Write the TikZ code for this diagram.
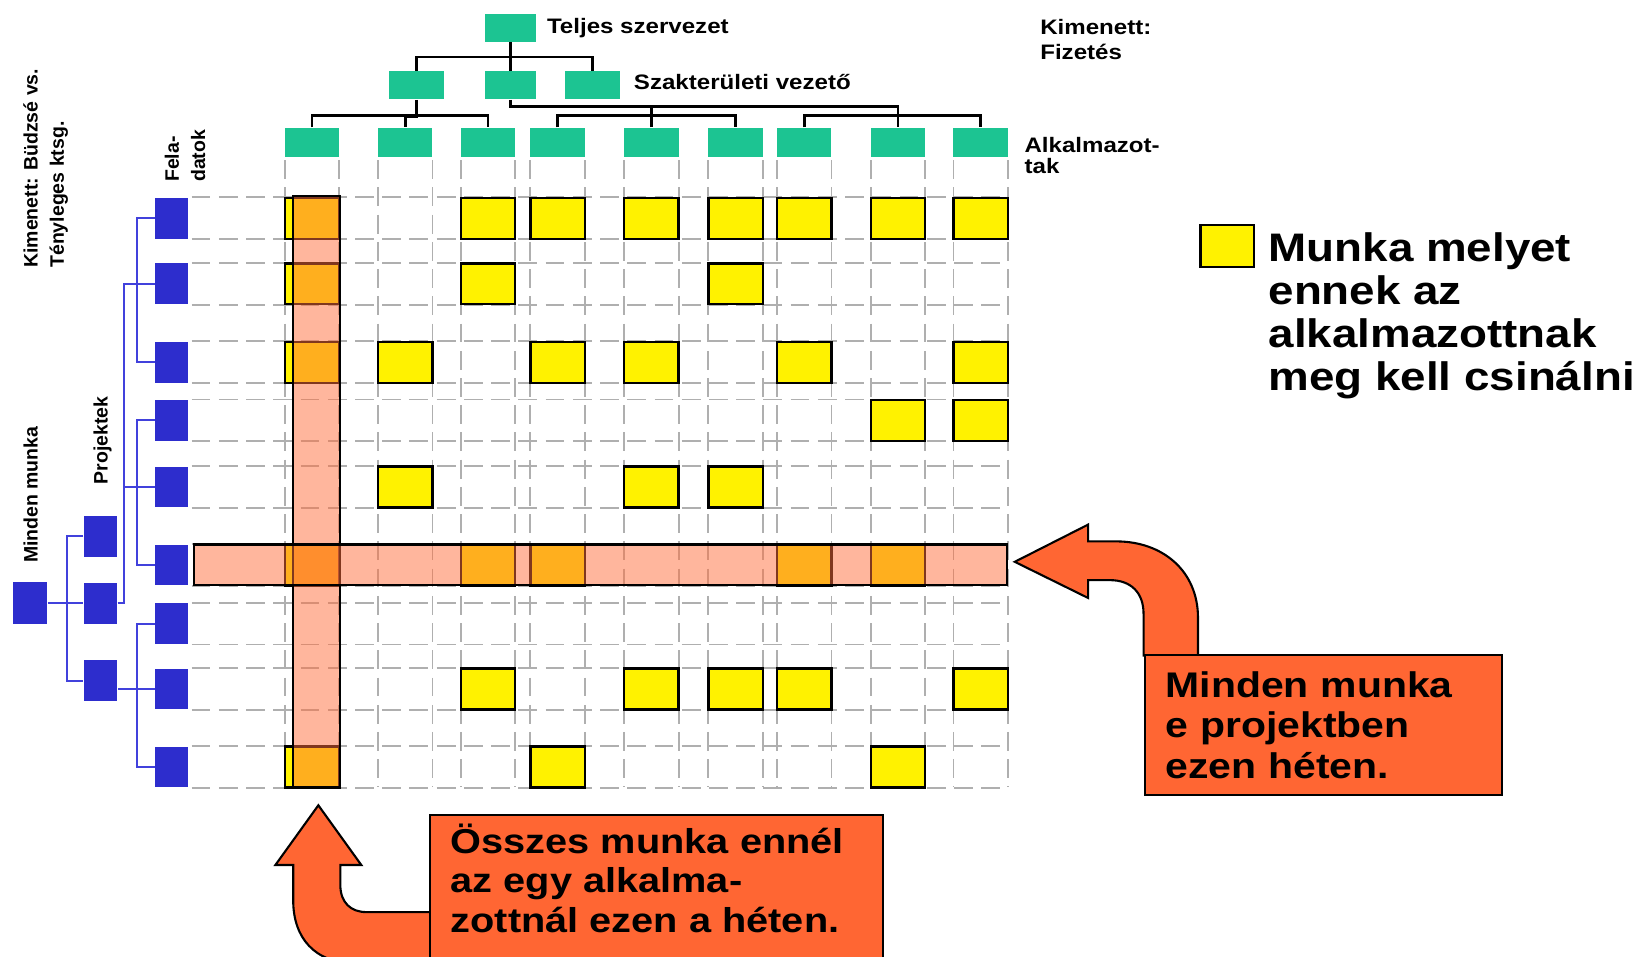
\documentclass[tikz,border=0pt]{standalone}
\usepackage{fontspec}
\setmainfont{Liberation Sans}
\newfontfamily\widefont[FakeStretch=1.15]{Liberation Sans}

\definecolor{orggreen}{RGB}{28,196,146}
\definecolor{taskblue}{RGB}{45,45,205}
\definecolor{treeblue}{RGB}{65,65,220}
\definecolor{gridgray}{RGB}{175,175,175}
\definecolor{hilite}{RGB}{255,110,60}
\definecolor{callred}{RGB}{255,102,51}

\tikzset{
  orgbox/.style={fill=orggreen, minimum width=24.5pt, minimum height=13.5pt, inner sep=0pt},
  orgline/.style={line width=1.3pt},
  taskbox/.style={fill=taskblue, minimum width=16pt, minimum height=19.5pt, inner sep=0pt},
  treeline/.style={treeblue, line width=1pt},
  gridline/.style={gridgray, line width=0.9pt, dash pattern=on 9pt off 4pt},
  workbox/.style={fill=yellow, draw=black, line width=1.1pt, minimum width=26pt, minimum height=19.5pt, inner sep=0pt},
  hiliteband/.style={fill=hilite, fill opacity=0.5, draw=black, line width=1pt},
  calloutfill/.style={fill=callred, draw=black, line width=1pt},
  smalllabel/.style={font=\widefont\bfseries\fontsize{10}{10}\selectfont, inner sep=0pt, align=left},
  sidelabel/.style={font=\bfseries\fontsize{9.3}{12.5}\selectfont, rotate=90, inner sep=0pt, align=left, anchor=north west},
  legendtext/.style={font=\widefont\bfseries\fontsize{19}{20.5}\selectfont, inner sep=0pt, align=left},
}

\begin{document}
\begin{tikzpicture}[x=0.5pt, y=-0.5pt]
    \useasboundingbox (0,0) rectangle (1568,913);

    % Grid
    \foreach \y in {208.5,271,346,401.5,465,539.5,595.5,658,732.5} {
        \draw[gridline] (183,{\y-20}) -- (962,{\y-20});
        \draw[gridline] (183,{\y+20}) -- (962,{\y+20});
    }
    \foreach \x in {298,387,466,532.5,622,702.5,768,857.5,936.5} {
        \draw[gridline] ({\x-26},153) -- ({\x-26},752);
        \draw[gridline] ({\x+26},153) -- ({\x+26},752);
    }

    % Org chart
    \node[orgbox] (top) at (487.5,26.5) {};
    \node[orgbox, minimum width=26.5pt] (s1) at (397.5,81.5) {};
    \node[orgbox] (s2) at (487.5,81.5) {};
    \node[orgbox, minimum width=26pt] (s3) at (566,81.5) {};
    \foreach \n/\x in {1/298,2/387,3/466,4/532.5,5/622,6/702.5,7/768,8/857.5,9/936.5}
        \node[orgbox, minimum width=26pt, minimum height=14pt] (e\n) at (\x,136) {};

    \draw[orgline] (top.south) -- ++(0,14) -| (s1.north);
    \draw[orgline] (top.south) -- ++(0,14) -| (s3.north);
    \draw[orgline] (top) -- (s2);
    \draw[orgline] (e1.north) -- ++(0,-11) -| (e3.north);
    \draw[orgline] (s1.south) -- ++(0,16) -| (e2.north);
    \draw[orgline] (e4.north) -- ++(0,-11) -| (e6.north);
    \draw[orgline] (e7.north) -- ++(0,-11) -| (e9.north);
    \draw[orgline] (s2.south) -- ++(0,6) coordinate (s2bus) -| (e8.north);
    \draw[orgline] (e5.north) -- (e5.north |- s2bus);

    \node[smalllabel, anchor=west] (toplabel) at (522,27) {Teljes szervezet};
    \node[smalllabel, anchor=west] (midlabel) at (605,78) {Szakterületi vezető};
    \node[smalllabel, anchor=north west, font=\widefont\bfseries\fontsize{10}{11.5}\selectfont] (paylabel) at (993,18.5) {Kimenett:\\Fizetés};
    \node[smalllabel, anchor=north west] (emplabel) at (978,131) {Alkalmazot-\\tak};

    % Task tree
    \node[taskbox, minimum width=16.5pt, minimum height=20pt] (all) at (28.5,576) {};
    \node[taskbox] (p1) at (96,512) {};
    \node[taskbox] (p2) at (96,576) {};
    \node[taskbox] (p3) at (96,650) {};
    \foreach \n/\y in {1/208.5,2/271,3/346,4/401.5,5/465,6/539.5,7/595.5,8/658,9/732.5}
        \node[taskbox] (f\n) at (164,\y) {};

    \draw[treeline] (all) -- (p2);
    \draw[treeline] (p1.west) -- ++(-16,0) |- (p3.west);
    \draw[treeline] (p2.east) -- ++(6,0) |- (f2.west);
    \draw[treeline] (p2.east) -- ++(6,0) |- (f5.west);
    \draw[treeline] (f1.west) -- ++(-17,0) |- (f3.west);
    \draw[treeline] (f4.west) -- ++(-17,0) |- (f6.west);
    \draw[treeline] (f7.west) -- ++(-17,0) |- (f9.west);
    \draw[treeline] (f8.west) -- (f8.west -| p3.east);

    \node[sidelabel] (budget) at (22,256) {Kimenett: Büdzsé vs.\\Tényleges ktsg.};
    \node[sidelabel] (tasks) at (157,174) {Fela-\\datok};
    \node[sidelabel] (projects) at (89,463) {Projektek};
    \node[sidelabel] (allwork) at (22,538) {Minden munka};

    % Work cells
    \foreach \c/\r in {1/1,3/1,4/1,5/1,6/1,7/1,8/1,9/1,1/2,3/2,6/2,1/3,2/3,4/3,5/3,7/3,9/3,
                       8/4,9/4,2/5,5/5,6/5,1/6,3/6,4/6,7/6,8/6,3/8,5/8,6/8,7/8,9/8,1/9,4/9,8/9}
        \node[workbox] (w\c-\r) at (e\c |- f\r) {};

    % Highlights
    \draw[hiliteband] (280,187) rectangle (325,752);
    \draw[hiliteband] (185,520) rectangle (962,559);

    % Legend
    \node[workbox, minimum width=25.5pt, minimum height=20pt] (key) at (1172,235) {};
    \node[legendtext, anchor=north west] (keytext) at (1211,222)
        {Munka melyet\\ennek az\\alkalmazottnak\\meg kell csinálni};

    % Callouts
    \filldraw[calloutfill] (1092,626) -- (1092,586) .. controls (1092,566) and (1080,554) .. (1060,554)
        -- (1039,554) -- (1039,571) -- (969,536.5) -- (1039,501) -- (1039,517) -- (1066,517)
        .. controls (1110,517) and (1144,545) .. (1144,590) -- (1144,626) -- cycle;
    \node[calloutfill, text width=150.5pt, minimum height=67pt, inner xsep=10pt, inner ysep=0pt, align=left,
          font=\widefont\bfseries\fontsize{17}{19.5}\selectfont] (rbox) at (1263.5,692.5)
        {Minden munka\\e projektben\\ezen héten.};

    \filldraw[calloutfill] (411,871) -- (350,871) .. controls (335,871) and (325,862) .. (325,845)
        -- (325,826) -- (345,826) -- (304,769) -- (263,826) -- (280,826) -- (280,860)
        .. controls (280,895) and (300,920) .. (340,920) -- (411,920) -- cycle;
    \draw[calloutfill] (411,778) rectangle (843,925);
    \node[inner sep=0pt, align=left, anchor=north west,
          font=\widefont\bfseries\fontsize{16.5}{19}\selectfont] (btext) at (430,786)
        {Összes munka ennél\\az egy alkalma-\\zottnál ezen a héten.};

\end{tikzpicture}
\end{document}
